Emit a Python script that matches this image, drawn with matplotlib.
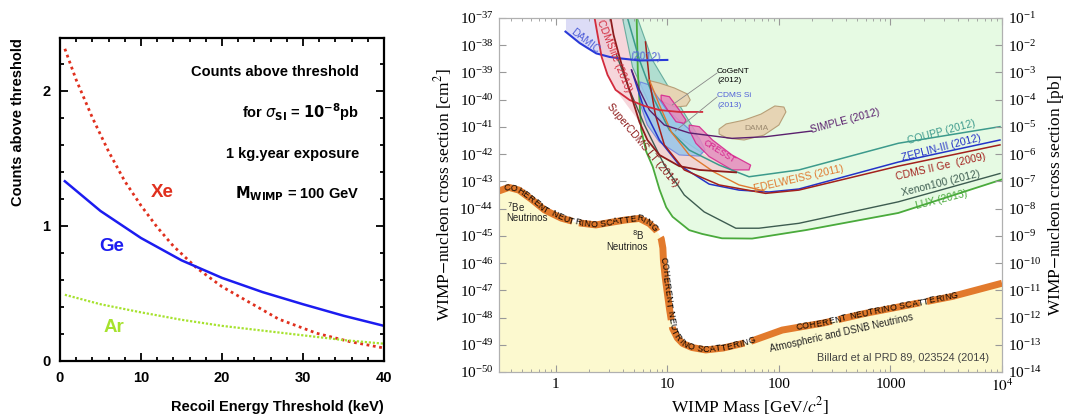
import numpy as np
import matplotlib
matplotlib.use("Agg")
import matplotlib.pyplot as plt
from matplotlib.transforms import IdentityTransform
from matplotlib.font_manager import FontProperties
from matplotlib.ticker import MultipleLocator, LogLocator, NullLocator, NullFormatter, FuncFormatter

plt.rcParams['font.family'] = ['Liberation Serif', 'DejaVu Serif']
plt.rcParams['mathtext.fontset'] = 'stix'

# ---------------- left panel: counts above threshold ----------------
thr_xe = [0.6, 2, 4, 6, 8, 10, 12, 14, 16.9, 20, 23.5, 27, 31.7, 35.8, 40]
cnt_xe = [2.31, 2.08, 1.80, 1.55, 1.33, 1.15, 0.99, 0.85, 0.687, 0.55, 0.43, 0.31, 0.205, 0.143, 0.096]
thr_ge = [0.6, 5, 10, 15, 20, 25, 30, 35, 40]
cnt_ge = [1.33, 1.11, 0.91, 0.745, 0.615, 0.51, 0.42, 0.335, 0.26]
thr_ar = [0.6, 5, 10, 15, 20, 25, 30, 35, 40]
cnt_ar = [0.49, 0.42, 0.36, 0.305, 0.26, 0.225, 0.19, 0.155, 0.128]

# ---------------- right panel: log10(mass/GeV), log10(sigma/cm^2) ----------------
floor_lm = [-0.509, -0.42, -0.33, -0.22, -0.10, 0.05, 0.2, 0.36, 0.5, 0.62, 0.75, 0.84, 0.9, 0.945,
            0.96, 0.965, 0.98, 1.0, 1.02, 1.047, 1.09, 1.137, 1.22, 1.345, 1.5, 1.73, 2.03, 2.4,
            2.77, 3.15, 3.55, 4.0]
floor_ls = [-43.35, -43.22, -43.32, -43.65, -44.05, -44.35, -44.52, -44.6, -44.5, -44.42, -44.36,
            -44.55, -44.79, -45.1, -45.45, -45.9, -46.5, -47.1, -47.7, -48.4, -48.75, -48.95, -49.1,
            -49.19, -49.12, -48.9, -48.46, -48.2, -47.85, -47.55, -47.23, -46.74]

lux_lm = [0.725, 0.735, 0.765, 0.81, 0.869, 0.93, 0.99, 1.047, 1.196, 1.3125, 1.49, 1.76, 2.24, 3.07, 4.0]
lux_ls = [-37.0, -38.9, -41.1, -41.9, -42.46, -43.3, -43.95, -44.3, -44.79, -44.93, -45.09, -45.10,
          -44.79, -44.16, -42.93]
xe100_lm = [0.545, 0.661, 0.795, 0.973, 1.152, 1.33, 1.614, 1.821, 2.179, 3.071, 3.982]
xe100_ls = [-38.36, -39.64, -40.93, -42.40, -43.50, -44.12, -44.72, -44.72, -44.54, -43.75, -42.71]
coupp_lm = [0.643, 0.75, 0.884, 1.018, 1.196, 1.464, 1.732, 2.179, 3.071, 3.982]
coupp_ls = [-37.0, -38.54, -40.01, -41.11, -41.85, -42.40, -42.83, -42.58, -41.60, -40.99]
zep_lm = [0.679, 0.795, 0.929, 1.107, 1.375, 1.643, 1.911, 2.179, 3.071, 3.982]
zep_ls = [-38.91, -40.38, -41.48, -42.40, -43.10, -43.32, -43.39, -43.28, -42.29, -41.48]
ge_lm = [0.804, 0.839, 0.893, 0.973, 1.152, 1.464, 1.881, 2.179, 3.071, 3.982]
ge_ls = [-37.88, -39.28, -40.56, -41.66, -42.58, -43.13, -43.44, -43.32, -42.44, -41.66]
edw_lm = [0.839, 0.929, 1.036, 1.196, 1.42, 1.643, 1.866]
edw_ls = [-39.28, -40.19, -41.19, -42.03, -42.66, -43.13, -43.35]
simple_lm = [0.679, 0.75, 0.839, 0.973, 1.196, 1.58, 1.881, 2.295]
simple_ls = [-38.91, -39.64, -40.38, -40.93, -41.22, -41.42, -41.36, -41.15]
damic_lm = [0.087, 0.214, 0.363, 0.482, 0.571, 0.75, 1.0]
damic_ls = [-37.50, -37.92, -38.30, -38.43, -38.48, -38.56, -38.54]
lite_lm = [0.348, 0.375, 0.411, 0.464, 0.536, 0.661, 0.795, 0.929, 1.107, 1.313]
lite_ls = [-37.0, -37.62, -38.43, -39.09, -39.64, -40.01, -40.23, -40.38, -40.45, -40.45]
scdms_lm = [0.491, 0.518, 0.571, 0.625, 0.688, 0.75, 0.821, 0.929, 1.107, 1.286, 1.616]
scdms_ls = [-37.0, -37.62, -38.43, -39.20, -40.01, -40.82, -41.48, -42.03, -42.44, -42.58, -42.67]

teal_lm = [0.598, 0.688, 0.866, 1.045, 1.313, 1.259, 1.080, 0.866, 0.732]
teal_ls = [-37.0, -38.8, -40.38, -41.22, -41.96, -41.22, -40.01, -38.54, -37.0]
pink_lm = [0.348, 0.375, 0.411, 0.464, 0.536, 0.75, 0.821, 0.929, 1.107, 1.286, 1.616, 1.313,
           1.045, 0.866, 0.688, 0.598]
pink_ls = [-37.0, -37.62, -38.43, -39.09, -39.64, -40.82, -41.48, -42.03, -42.44, -42.58, -42.67,
           -41.96, -41.22, -40.38, -38.8, -37.0]
cogent_lm = [0.821, 0.929, 1.063, 1.179, 1.205, 1.17, 1.071, 0.946, 0.857]
cogent_ls = [-39.28, -39.39, -39.57, -39.79, -40.01, -40.23, -40.27, -40.05, -39.72]
dama_lm = [1.464, 1.527, 1.688, 1.839, 1.964, 2.045, 2.063, 2.0, 1.866, 1.688, 1.536, 1.464]
dama_ls = [-41.08, -40.89, -40.75, -40.53, -40.23, -40.27, -40.45, -40.93, -41.30, -41.48, -41.41, -41.26]
cdmssi_lm = [0.759, 0.839, 0.982, 1.152, 1.286, 1.339, 1.286, 1.107, 0.929, 0.821, 0.759, 0.741]
cdmssi_ls = [-39.35, -39.46, -40.31, -40.93, -41.41, -41.85, -42.07, -42.03, -41.55, -40.93, -40.19, -39.64]
cresst_lm = [1.196, 1.286, 1.405, 1.58, 1.747, 1.732, 1.58, 1.375, 1.256, 1.196]
cresst_ls = [-40.93, -40.99, -41.48, -42.03, -42.40, -42.58, -42.58, -42.09, -41.60, -41.11]
cresst2_lm = [0.944, 1.018, 1.107, 1.167, 1.152, 1.078, 1.003, 0.944]
cresst2_ls = [-39.83, -39.89, -40.38, -40.75, -40.87, -40.81, -40.38, -40.01]

floor_text = "COHERENT NEUTRINO SCATTERING"


def P(lm, ls):
    return np.power(10.0, np.asarray(lm, float)), np.power(10.0, np.asarray(ls, float))


def text_on_path(ax, lm, ls, start, s, size=6.3):
    fig = ax.figure
    x, y = P(lm, ls)
    pts = ax.transData.transform(np.column_stack([x, y]))
    seg = np.hypot(*np.diff(pts, axis=0).T)
    cum = np.concatenate([[0.0], np.cumsum(seg)])
    t = np.linspace(0, cum[-1], 4000)
    xs = np.interp(t, cum, pts[:, 0])
    ys = np.interp(t, cum, pts[:, 1])
    p0 = ax.transData.transform((10 ** start[0], 10 ** start[1]))
    pos = t[np.argmin(np.hypot(xs - p0[0], ys - p0[1]))]
    rend = fig.canvas.get_renderer()
    fp = FontProperties(family='Liberation Sans', size=size)
    for ch in s:
        w = rend.get_text_width_height_descent(ch, fp, ismath=False)[0]
        w = max(w, 0.3 * size * fig.dpi / 72) + 0.3
        c = pos + w / 2
        xa, ya = np.interp(c - w / 2, t, xs), np.interp(c - w / 2, t, ys)
        xb, yb = np.interp(c + w / 2, t, xs), np.interp(c + w / 2, t, ys)
        ang = np.degrees(np.arctan2(yb - ya, xb - xa))
        ax.text(np.interp(c, t, xs), np.interp(c, t, ys), ch, transform=IdentityTransform(),
                rotation=ang, rotation_mode='anchor', ha='center', va='center',
                fontproperties=fp, color='black', zorder=6)
        pos += w


fig = plt.figure(figsize=(10.65, 4.18), dpi=100)

# ================= left =================
axl = fig.add_axes([60 / 1065, 1 - 361 / 418, 324 / 1065, 323 / 418])
axl.plot(thr_xe, cnt_xe, color='#e0301e', lw=2.0, ls=(0, (1, 1.3)))
axl.plot(thr_ge, cnt_ge, color='#1c1cf0', lw=1.8)
axl.plot(thr_ar, cnt_ar, color='#a6e22e', lw=1.6, ls=(0, (1, 0.8)))
axl.set_xlim(0, 40)
axl.set_ylim(0, 2.39)
axl.xaxis.set_major_locator(MultipleLocator(10))
axl.xaxis.set_minor_locator(MultipleLocator(2))
axl.yaxis.set_major_locator(MultipleLocator(1))
axl.yaxis.set_minor_locator(MultipleLocator(0.2))
axl.tick_params(which='both', direction='in', top=True, right=True, width=1.3,
                labelsize=10.5, labelfontfamily='Liberation Sans', pad=7)
axl.tick_params(which='major', length=6)
axl.tick_params(which='minor', length=3)
for lbl in axl.get_xticklabels() + axl.get_yticklabels():
    lbl.set_fontweight('bold')
for sp in axl.spines.values():
    sp.set_linewidth(1.6)
sans_b = dict(family='Liberation Sans', weight='bold')
axl.set_ylabel('Counts above threshold', loc='top', fontsize=10.5, labelpad=12, **sans_b)
axl.set_xlabel('Recoil Energy Threshold (keV)', loc='right', fontsize=10.5, labelpad=11, **sans_b)

axl.text(36.9, 2.14, 'Counts above threshold', ha='right', va='center', fontsize=10.5, **sans_b)
axl.text(36.9, 1.84, r'for $\sigma_{\mathbf{SI}}$ = $\mathbf{10^{-8}}$pb', ha='right', va='center',
         fontsize=10.5, math_fontfamily='dejavusans', **sans_b)
axl.text(36.9, 1.53, '1 kg.year exposure', ha='right', va='center', fontsize=10.5, **sans_b)
axl.text(36.9, 1.24, r'$\mathbf{M_{WIMP}}$ = 100 GeV', ha='right', va='center', fontsize=10.5,
         math_fontfamily='dejavusans', **sans_b)
axl.text(12.6, 1.25, 'Xe', color='#e0301e', ha='center', va='center', fontsize=13.5, **sans_b)
axl.text(6.4, 0.845, 'Ge', color='#1c1cf0', ha='center', va='center', fontsize=13.5, **sans_b)
axl.text(6.6, 0.25, 'Ar', color='#a6e22e', ha='center', va='center', fontsize=13.5, **sans_b)

# ================= right =================
axr = fig.add_axes([499 / 1065, 1 - 372 / 418, 503 / 1065, 354 / 418])
axr.set_xscale('log')
axr.set_yscale('log')
axr.set_xlim(10 ** -0.509, 1e4)
axr.set_ylim(1e-50, 1e-37)

fx, fy = P(floor_lm, floor_ls)
axr.fill_between(fx, 1e-50, fy, color='#fcf9cf', lw=0, zorder=1)
lx, ly = P(lux_lm, lux_ls)
axr.fill_between(lx, ly, 1e-37, color='#e6fae3', lw=0, zorder=1)
dx, dy = P(damic_lm, damic_ls)
axr.fill_between(dx[:4], dy[:4], 1e-37, color='#dcdcf6', lw=0, zorder=1.2)
axr.fill(*P(pink_lm, pink_ls), facecolor='#f4c9cf', alpha=0.75, lw=0, zorder=1.3)
axr.fill(*P(teal_lm, teal_ls), facecolor='#a3d8cc', edgecolor='#4f9e8f', alpha=0.8, lw=0.8, zorder=1.4)

axr.fill(*P(cogent_lm, cogent_ls), facecolor='#e6d4b4', edgecolor='#b79f78', lw=0.8, zorder=2)
axr.fill(*P(dama_lm, dama_ls), facecolor='#e6d4b4', edgecolor='#b79f78', lw=0.8, zorder=2)
axr.fill(*P(cdmssi_lm, cdmssi_ls), facecolor='#98c6ea', edgecolor='#6a7fe0', alpha=0.85, lw=0.8, zorder=2)
axr.fill(*P(cresst_lm, cresst_ls), facecolor='#e58abd', edgecolor='#d6208c', alpha=0.85, lw=0.9, zorder=2.1)
axr.fill(*P(cresst2_lm, cresst2_ls), facecolor='#e58abd', edgecolor='#d6208c', alpha=0.85, lw=0.9, zorder=2.1)

limits = [
    (lux_lm, lux_ls, '#4aaa3c', 1.3),
    (xe100_lm, xe100_ls, '#3d5c50', 1.0),
    (coupp_lm, coupp_ls, '#3c9a8c', 1.1),
    (zep_lm, zep_ls, '#2433c8', 1.1),
    (ge_lm, ge_ls, '#a3201c', 1.1),
    (edw_lm, edw_ls, '#e07a30', 1.0),
    (simple_lm, simple_ls, '#5a1f6e', 1.0),
    (damic_lm, damic_ls, '#2a3ad8', 1.5),
    (lite_lm, lite_ls, '#d22a3c', 1.3),
    (scdms_lm, scdms_ls, '#8e1c1c', 1.3),
]
for lm, ls, col, lw in limits:
    axr.plot(*P(lm, ls), color=col, lw=lw, zorder=3)

axr.plot(fx, fy, color='#e27a2c', lw=5, ls=(0, (12, 1)), solid_capstyle='butt', zorder=4)

# leader lines
axr.plot(*P([1.446, 1.045], [-39.02, -40.19]), color='#888888', lw=0.6, zorder=3.5)
axr.plot(*P([1.446, 1.071], [-39.90, -41.15]), color='#888888', lw=0.6, zorder=3.5)

lab = dict(family='Liberation Sans', zorder=6, ha='center', va='center')
labels = [
    ('DAMIC', 0.259, -37.85, -38, '#5060d8', 7.5),
    ('(2012)', 0.81, -38.43, -3, '#5060d8', 7.5),
    ('CDMSlite (2013)', 0.527, -38.41, -68, '#d22a3c', 7.5),
    ('SuperCDMS LT (2014)', 0.78, -41.66, -50, '#8e1c1c', 7.5),
    ('SIMPLE (2012)', 2.595, -40.78, 15, '#5a1f6e', 7.5),
    ('COUPP (2012)', 3.455, -41.20, 15, '#3c9a8c', 7.5),
    ('ZEPLIN-III (2012)', 3.455, -41.77, 14.5, '#2433c8', 7.5),
    ('CDMS II Ge  (2009)', 3.455, -42.46, 13, '#a3201c', 7.5),
    ('Xenon100 (2012)', 3.455, -43.06, 14, '#3d5c50', 7.5),
    ('LUX (2013)', 3.46, -43.68, 14, '#4aaa3c', 7.5),
    ('EDELWEISS (2011)', 2.179, -42.89, 13, '#e07a30', 7.5),
    ('CRESST', 1.464, -41.92, -32, '#d6208c', 6.5),
    ('DAMA', 1.795, -41.04, 0, '#9c8a70', 6),
    ('Atmospheric and DSNB Neutrinos', 2.565, -48.55, 12.7, '#222222', 7),
    ('Billard et al PRD 89, 023524 (2014)', 3.116, -49.50, 0, '#444444', 7.8),
]
for s, xm, ys, rot, col, fs in labels:
    axr.text(10 ** xm, 10 ** ys, s, rotation=rot, rotation_mode='anchor', color=col, fontsize=fs, **lab)

small = dict(family='Liberation Sans', zorder=6, ha='left', va='center', fontsize=6)
axr.text(10 ** 1.446, 10 ** -38.95, 'CoGeNT', color='black', **small)
axr.text(10 ** 1.446, 10 ** -39.31, '(2012)', color='black', **small)
axr.text(10 ** 1.446, 10 ** -39.86, 'CDMS Si', color='#5060d8', **small)
axr.text(10 ** 1.446, 10 ** -40.23, '(2013)', color='#5060d8', **small)

nu = dict(family='Liberation Sans', zorder=6, ha='left', va='center', fontsize=7, color='#222222',
          math_fontfamily='dejavusans')
axr.text(10 ** -0.44, 10 ** -43.94, r'$^{7}$Be', **nu)
axr.text(10 ** -0.44, 10 ** -44.34, 'Neutrinos', **nu)
axr.text(10 ** 0.6875, 10 ** -44.97, r'$^{8}$B', **nu)
axr.text(10 ** 0.455, 10 ** -45.40, 'Neutrinos', **nu)

text_on_path(axr, floor_lm, floor_ls, (-0.46, -43.3), floor_text)
text_on_path(axr, floor_lm, floor_ls, (0.965, -45.75), floor_text)
text_on_path(axr, floor_lm, floor_ls, (2.15, -48.4), floor_text)

axr.yaxis.set_major_locator(LogLocator(base=10, numticks=30))
axr.yaxis.set_minor_locator(NullLocator())
axr.xaxis.set_major_locator(LogLocator(base=10, numticks=30))
axr.xaxis.set_minor_locator(LogLocator(base=10, subs=np.arange(2, 10), numticks=30))
axr.xaxis.set_minor_formatter(NullFormatter())
xlab = {1: '1', 10: '10', 100: '100', 1000: '1000', 10000: r'$10^4$'}
axr.xaxis.set_major_formatter(FuncFormatter(lambda v, p: xlab.get(int(round(v)), '') if v >= 1 else ''))
axr.tick_params(which='both', direction='in', top=True, color='#999999', labelsize=11, pad=4)
axr.tick_params(which='major', length=5)
axr.tick_params(which='minor', length=2.5)
for sp in axr.spines.values():
    sp.set_color('#b0b0b0')
axr.set_xlabel(r'WIMP Mass [GeV/$c^2$]', fontsize=12.5)
axr.xaxis.set_label_coords(0.5, -0.066)
axr.set_ylabel(r'WIMP$-$nucleon cross section [cm$^2$]', fontsize=12.5)
axr.yaxis.set_label_coords(-0.09, 0.5)

twin = axr.twinx()
twin.set_yscale('log')
twin.set_ylim(1e-14, 1e-1)
twin.yaxis.set_major_locator(LogLocator(base=10, numticks=30))
twin.yaxis.set_minor_locator(NullLocator())
twin.tick_params(which='both', direction='in', color='#999999', labelsize=11, pad=4, length=5)
for sp in twin.spines.values():
    sp.set_color('#b0b0b0')
twin.set_ylabel(r'WIMP$-$nucleon cross section [pb]', fontsize=12.5)
twin.yaxis.set_label_coords(1.088, 0.5)

fig.savefig('out.png', dpi=100)
